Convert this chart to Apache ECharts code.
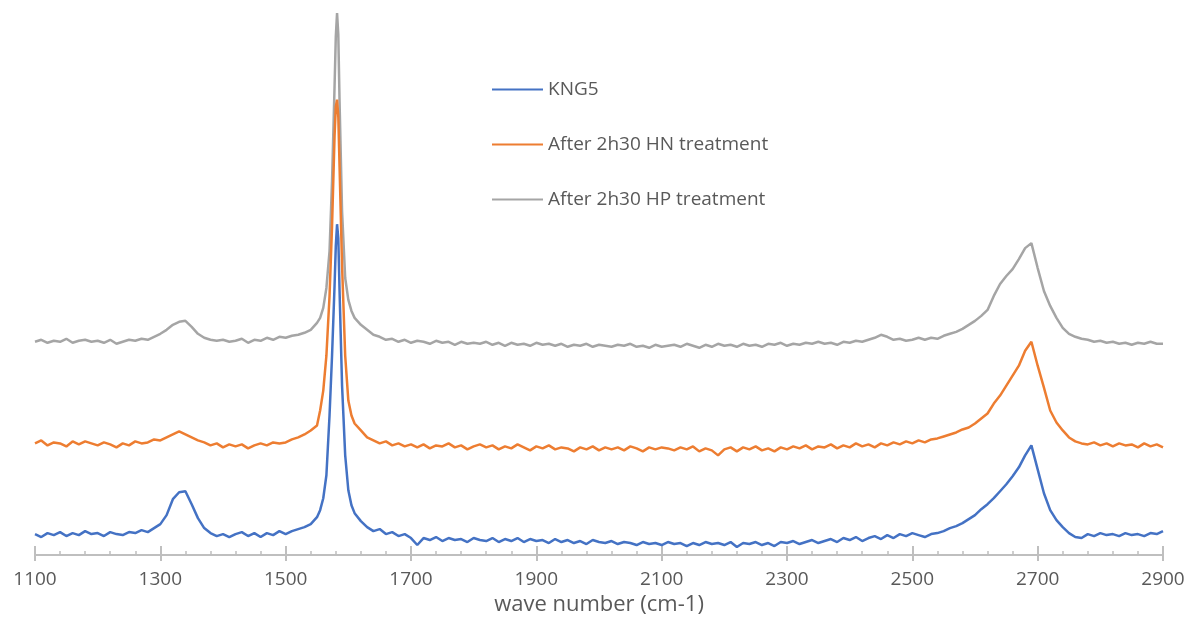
<!DOCTYPE html>
<html>
<head>
<meta charset="utf-8">
<script src="https://cdn.jsdelivr.net/npm/echarts@6/dist/echarts.min.js"></script>
<style>
html,body{margin:0;padding:0;background:#fff;}
#c{width:1191px;height:621px;}
</style>
</head>
<body>
<div id="c"></div>
<script>
// wave numbers (cm-1)
var waveNumbers = [
1100,1110,1120,1130,1140,1150,1160,1170,1180,1190,
1200,1210,1220,1230,1240,1250,1260,1270,1280,1290,
1300,1310,1320,1330,1340,1350,1360,1370,1380,1390,
1400,1410,1420,1430,1440,1450,1460,1470,1480,1490,
1500,1510,1520,1530,1540,1550,
1555,1560,1565,1570,1574,1578,1580,1582,1584,1586,
1590,1595,1600,1605,1610,
1620,1630,1640,1650,1660,1670,1680,1690,1700,1710,
1720,1730,1740,1750,1760,1770,1780,1790,1800,1810,
1820,1830,1840,1850,1860,1870,1880,1890,1900,1910,
1920,1930,1940,1950,1960,1970,1980,1990,2000,2010,
2020,2030,2040,2050,2060,2070,2080,2090,2100,2110,
2120,2130,2140,2150,2160,2170,2180,2190,2200,2210,
2220,2230,2240,2250,2260,2270,2280,2290,2300,2310,
2320,2330,2340,2350,2360,2370,2380,2390,2400,2410,
2420,2430,2440,2450,2460,2470,2480,2490,2500,2510,
2520,2530,2540,2550,2560,2570,2580,2590,2600,2610,
2620,2630,2640,2650,2660,2670,2680,2690,2700,2710,
2720,2730,2740,2750,2760,2770,2780,2790,2800,2810,
2820,2830,2840,2850,2860,2870,2880,2890,2900
];

// KNG5 (intensity, arbitrary units)
var kng5 = [
21,18,22,20,23,19,22,20,24,21,
22,19,23,21,20,23,22,25,23,27,
31,40,56,63,64,51,37,27,22,19,
21,18,21,23,19,22,18,22,20,24,
21,24,26,28,31,38,
45,57,80,140,200,270,310,332,318,265,
170,100,65,50,42,
34,28,24,26,21,23,19,21,17,10,
17,15,18,14,17,15,16,13,17,15,
14,17,13,16,14,17,13,16,14,15,
12,16,13,15,12,14,11,15,13,12,
14,11,13,12,10,13,11,12,10,13,
11,12,9,12,10,13,11,12,10,13,
8,12,11,13,10,12,9,13,12,14,
11,13,15,12,14,16,13,17,15,18,
14,17,19,16,20,17,21,19,22,20,
18,21,22,24,27,29,32,36,40,46,
51,57,64,71,79,88,100,110,86,62,
45,35,28,22,18,17,21,19,22,20,
21,19,22,20,21,19,22,21,24
];

// After 2h30 HN treatment
var hnTreatment = [
112,115,110,113,112,109,114,111,114,112,
110,113,111,108,112,110,114,112,113,116,
115,118,121,124,121,118,115,113,110,112,
108,111,109,111,107,110,112,110,113,112,
113,116,118,121,125,130,
145,165,200,260,330,420,450,457,440,390,
290,200,155,140,132,
125,118,115,112,114,110,112,109,111,108,
111,107,110,109,112,108,110,106,109,111,
108,110,106,109,107,111,108,105,109,107,
110,106,108,107,104,108,106,109,105,108,
106,108,105,109,107,104,108,106,108,107,
105,108,106,109,104,107,105,100,106,108,
104,108,106,109,105,107,104,108,106,109,
107,110,106,109,108,111,107,110,108,112,
109,111,108,112,110,113,111,114,112,115,
113,116,117,119,121,123,126,128,132,137,
142,152,160,170,180,190,205,214,190,168,
145,133,125,118,114,112,111,113,110,112,
109,112,110,111,108,112,109,111,108
];

// After 2h30 HP treatment
var hpTreatment = [
214,216,213,215,214,217,213,215,216,214,
215,213,216,212,214,216,215,217,216,219,
222,226,231,234,235,229,222,218,216,215,
216,214,215,217,213,216,215,218,216,219,
218,220,221,223,226,233,
238,248,268,305,375,470,520,544,522,455,
345,278,256,245,238,
231,226,221,219,216,217,214,216,213,215,
214,212,215,213,214,211,214,212,213,212,
214,211,213,210,213,211,212,210,213,211,
212,210,212,209,211,210,212,209,211,210,
209,211,210,212,209,210,208,211,209,210,
211,209,212,210,208,211,209,212,210,211,
209,212,210,211,209,212,211,213,210,212,
211,213,212,214,212,213,211,214,213,215,
214,216,218,221,219,216,217,215,216,218,
216,218,217,220,222,224,227,231,235,240,
246,260,272,280,287,297,308,313,288,265,
250,238,228,222,219,217,216,214,215,213,
214,212,213,211,213,212,214,212,212
];

var seriesNames = ['KNG5', 'After 2h30 HN treatment', 'After 2h30 HP treatment'];
var seriesColors = ['#4472C4', '#ED7D31', '#A5A5A5'];

function pairs(ys) {
  return waveNumbers.map(function (x, i) { return [x, ys[i]]; });
}

var chart = echarts.init(document.getElementById('c'), null, {renderer: 'canvas'});
var textColor = '#595959';
var fontFam = '"Open Sans", "Noto Sans", sans-serif';

var option = {
  backgroundColor: '#ffffff',
  animation: false,
  grid: {left: 35, right: 28, top: 10, bottom: 64},
  legend: {
    data: seriesNames,
    orient: 'vertical',
    left: 487,
    top: 75,
    icon: 'rect',
    itemWidth: 51,
    itemHeight: 2,
    itemGap: 36,
    textStyle: {color: textColor, fontSize: 19, fontFamily: fontFam}
  },
  xAxis: [{
    type: 'value',
    min: 1100, max: 2900, interval: 200,
    position: 'bottom',
    name: 'wave number (cm-1)',
    nameLocation: 'middle',
    nameGap: 39,
    nameTextStyle: {color: textColor, fontSize: 22, fontFamily: fontFam},
    axisLine: {show: true, lineStyle: {color: '#BFBFBF', width: 2}},
    axisTick: {show: true, inside: false, length: 6, lineStyle: {color: '#BFBFBF', width: 2}},
    minorTick: {show: false},
    axisLabel: {color: textColor, fontSize: 19, fontFamily: fontFam, margin: 15,
      formatter: function (v) { return String(v); }},
    splitLine: {show: false}
  }, {
    type: 'value',
    min: 1100, max: 2900, interval: 200,
    position: 'bottom',
    axisLine: {show: true, lineStyle: {color: '#BFBFBF', width: 2}},
    axisTick: {show: true, inside: true, length: 9, lineStyle: {color: '#BFBFBF', width: 2}},
    minorTick: {show: true, splitNumber: 5, length: 4, lineStyle: {color: '#BFBFBF', width: 1.5}},
    axisLabel: {show: false},
    splitLine: {show: false}
  }],
  yAxis: {
    type: 'value', min: 0, max: 547, show: false, splitLine: {show: false}
  },
  series: [
    {name: seriesNames[2], type: 'line', data: pairs(hpTreatment), symbol: 'none', xAxisIndex: 0,
     lineStyle: {color: seriesColors[2], width: 2.5}, itemStyle: {color: seriesColors[2]}},
    {name: seriesNames[1], type: 'line', data: pairs(hnTreatment), symbol: 'none', xAxisIndex: 0,
     lineStyle: {color: seriesColors[1], width: 2.5}, itemStyle: {color: seriesColors[1]}},
    {name: seriesNames[0], type: 'line', data: pairs(kng5), symbol: 'none', xAxisIndex: 0,
     lineStyle: {color: seriesColors[0], width: 2.5}, itemStyle: {color: seriesColors[0]}}
  ]
};
chart.setOption(option);
</script>
</body>
</html>
